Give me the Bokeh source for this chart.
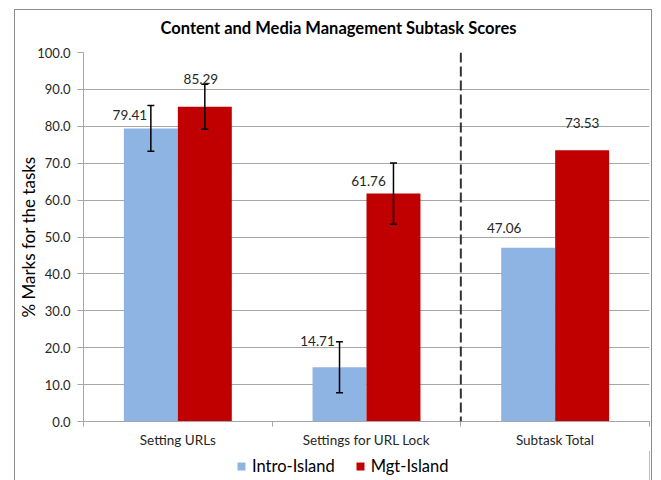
from bokeh.plotting import figure
from bokeh.layouts import column
from bokeh.models import (ColumnDataSource, Whisker, TeeHead, Span, Legend, Label,
                          LegendItem, FixedTicker, LabelSet, Range1d, NumeralTickFormatter)
from bokeh.core.properties import value
from bokeh.embed import file_html
from bokeh.resources import INLINE

# ---------------- data ----------------
categories = ["Setting URLs", "Settings for URL Lock", "Subtask Total"]
series = ["Intro-Island", "Mgt-Island"]
intro_values = [79.41, 14.71, 47.06]
mgt_values = [85.29, 61.76, 73.53]
# error bars exist only for the first two categories
intro_errors = [6.2, 6.9]
mgt_errors = [6.1, 8.3]
y_ticks = [0, 10, 20, 30, 40, 50, 60, 70, 80, 90, 100]
title_text = "Content and Media Management Subtask Scores"
y_label = "% Marks for the tasks"

# ---------------- styles ----------------
FONT = "Lato"
intro_color = "#8EB4E3"
mgt_color = "#C00000"
bar_w = 0.286
W = 636
# label pixel offsets (as placed in the original)
intro_dx = [-21, -22, -24]
intro_dy = [13, 26, 20]
mgt_dx = [-4, -25, 0]
mgt_dy = [28, 13, 27]

n = len(categories)
centers = [i + 0.5 for i in range(n)]
intro_x = [c - bar_w / 2 for c in centers]
mgt_x = [c + bar_w / 2 for c in centers]


def strip(height):
    f = figure(width=W, height=height, x_range=Range1d(0, 1), y_range=Range1d(0, 1),
               output_backend="svg", toolbar_location=None, min_border=0,
               x_axis_location=None, y_axis_location=None)
    f.grid.visible = False
    f.outline_line_color = None
    f.border_fill_color = "white"
    return f


# ---- title strip (frame is aligned with the main plot's frame) ----
tf = strip(34)
tf.add_layout(Label(x=255, y=17, x_units="screen", y_units="screen", text=title_text,
                    text_align="center", text_baseline="middle", text_font=FONT,
                    text_font_size="16.5px", text_font_style="bold", text_color="black"))

# ---- main plot ----
p = figure(width=W, height=406, x_range=Range1d(0, n), y_range=Range1d(0, 100),
           output_backend="svg", toolbar_location=None,
           min_border_left=68, min_border_right=2, min_border_top=8, min_border_bottom=27)
p.outline_line_color = None
p.background_fill_color = "white"
p.border_fill_color = "white"

src_i = ColumnDataSource(dict(x=intro_x, top=intro_values,
                              lab=[f"{v:.2f}" for v in intro_values], dx=intro_dx, dy=intro_dy))
src_m = ColumnDataSource(dict(x=mgt_x, top=mgt_values,
                              lab=[f"{v:.2f}" for v in mgt_values], dx=mgt_dx, dy=mgt_dy))

r_i = p.vbar(x="x", top="top", width=bar_w, source=src_i, fill_color=intro_color, line_color=None)
r_m = p.vbar(x="x", top="top", width=bar_w, source=src_m, fill_color=mgt_color, line_color=None)

# error bars
ne = len(intro_errors)
we_i = ColumnDataSource(dict(base=intro_x[:ne],
                             upper=[v + e for v, e in zip(intro_values, intro_errors)],
                             lower=[v - e for v, e in zip(intro_values, intro_errors)]))
we_m = ColumnDataSource(dict(base=mgt_x[:ne],
                             upper=[v + e for v, e in zip(mgt_values, mgt_errors)],
                             lower=[v - e for v, e in zip(mgt_values, mgt_errors)]))
for s in (we_i, we_m):
    w = Whisker(base="base", upper="upper", lower="lower", source=s, dimension="height",
                line_color="black", line_width=1.5, level="overlay",
                upper_head=TeeHead(size=7, line_color="black", line_width=1.5),
                lower_head=TeeHead(size=7, line_color="black", line_width=1.5))
    p.add_layout(w)

# value labels
for s in (src_i, src_m):
    ls = LabelSet(x="x", y="top", text="lab", source=s, x_offset="dx", y_offset="dy",
                  text_align="center", text_baseline="middle", text_font=value(FONT),
                  text_font_size="13.5px", text_color="#262626", level="overlay")
    p.add_layout(ls)

# dashed separator
p.add_layout(Span(location=2, dimension="height", line_color="#333333",
                  line_width=2, line_dash="10 4"))

# axes
p.yaxis.ticker = FixedTicker(ticks=y_ticks)
p.yaxis.formatter = NumeralTickFormatter(format="0.0")
p.yaxis.major_tick_out = 6
p.yaxis.major_tick_in = 0
p.yaxis.minor_tick_out = 0
p.yaxis.minor_tick_in = 0
p.yaxis.major_label_standoff = 7
p.yaxis.axis_line_color = "#a6a6a6"
p.yaxis.major_tick_line_color = "#a6a6a6"
p.yaxis.major_label_text_font = FONT
p.yaxis.major_label_text_font_size = "13px"
p.yaxis.major_label_text_color = "#262626"
p.yaxis.axis_label = y_label
p.yaxis.axis_label_text_font = FONT
p.yaxis.axis_label_text_font_size = "17px"
p.yaxis.axis_label_text_font_style = "normal"
p.yaxis.axis_label_text_color = "#000000"
p.yaxis.axis_label_standoff = -5

p.xaxis.ticker = FixedTicker(ticks=centers, minor_ticks=list(range(n + 1)))
p.xaxis.major_label_overrides = {c: lab for c, lab in zip(centers, categories)}
p.xaxis.major_tick_out = 0
p.xaxis.major_tick_in = 0
p.xaxis.minor_tick_out = 5
p.xaxis.minor_tick_in = 0
p.xaxis.minor_tick_line_color = "#a6a6a6"
p.xaxis.axis_line_color = "#a6a6a6"
p.xaxis.major_label_standoff = 5
p.xaxis.major_label_text_font = FONT
p.xaxis.major_label_text_font_size = "13.5px"
p.xaxis.major_label_text_color = "#262626"

p.xgrid.visible = False
p.ygrid.ticker = FixedTicker(ticks=y_ticks)
p.ygrid.grid_line_color = "#a6a6a6"

# ---- legend strip ----
lf = strip(30)
li = lf.vbar(x=[5], top=[1], width=0.1, fill_color=intro_color, line_color=None)
lm = lf.vbar(x=[5], top=[1], width=0.1, fill_color=mgt_color, line_color=None)
legend = Legend(items=[LegendItem(label=series[0], renderers=[li]),
                       LegendItem(label=series[1], renderers=[lm])],
                orientation="horizontal", location=(153, 4),
                glyph_width=10, glyph_height=10, label_height=18, label_standoff=6,
                spacing=20, padding=0, margin=0,
                label_text_font=FONT, label_text_font_size="16.5px", label_text_color="black",
                border_line_color=None, background_fill_alpha=0)
lf.add_layout(legend, "center")

layout = column(tf, p, lf, spacing=0, margin=(9, 0, 0, 14),
                styles={"border-top": "1px solid #8c8c8c", "border-left": "1px solid #8c8c8c",
                        "border-right": "1px solid #8c8c8c"})

open("out.html", "w").write(file_html(layout, INLINE))
